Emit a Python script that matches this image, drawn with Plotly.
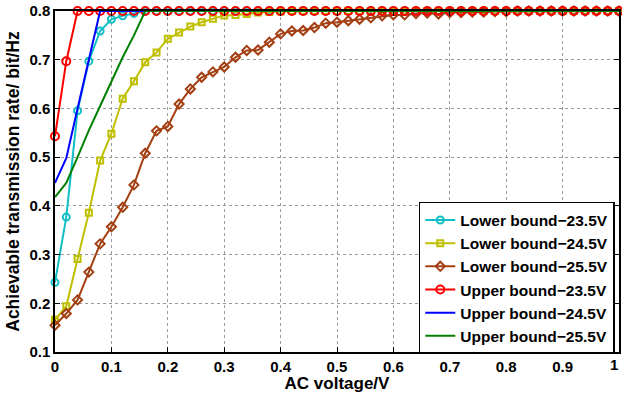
import plotly.graph_objects as go

x_voltage = [0.00, 0.02, 0.04, 0.06, 0.08, 0.10, 0.12, 0.14, 0.16, 0.18,
             0.20, 0.22, 0.24, 0.26, 0.28, 0.30, 0.32, 0.34, 0.36, 0.38,
             0.40, 0.42, 0.44, 0.46, 0.48, 0.50, 0.52, 0.54, 0.56, 0.58,
             0.60, 0.62, 0.64, 0.66, 0.68, 0.70, 0.72, 0.74, 0.76, 0.78,
             0.80, 0.82, 0.84, 0.86, 0.88, 0.90, 0.92, 0.94, 0.96, 0.98, 1.00]

lower_23_5 = [0.243, 0.377, 0.595, 0.697, 0.759, 0.783, 0.790, 0.795, 0.800, 0.800,
              0.800, 0.800, 0.800, 0.800, 0.800, 0.800, 0.800, 0.800, 0.800, 0.800,
              0.800, 0.800, 0.800, 0.800, 0.800, 0.800, 0.800, 0.800, 0.800, 0.800,
              0.800, 0.800, 0.800, 0.800, 0.800, 0.800, 0.800, 0.800, 0.800, 0.800,
              0.800, 0.800, 0.800, 0.800, 0.800, 0.800, 0.800, 0.800, 0.800, 0.800, 0.800]

lower_24_5 = [0.166, 0.194, 0.291, 0.386, 0.493, 0.548, 0.620, 0.656, 0.695, 0.715,
              0.743, 0.756, 0.768, 0.777, 0.784, 0.791, 0.792, 0.794, 0.797, 0.798,
              0.799, 0.800, 0.800, 0.800, 0.800, 0.800, 0.800, 0.800, 0.800, 0.800,
              0.800, 0.800, 0.800, 0.800, 0.800, 0.800, 0.800, 0.800, 0.800, 0.800,
              0.800, 0.800, 0.800, 0.800, 0.800, 0.800, 0.800, 0.800, 0.800, 0.800, 0.800]

lower_25_5 = [0.155, 0.179, 0.207, 0.264, 0.322, 0.357, 0.397, 0.443, 0.508, 0.554,
              0.563, 0.609, 0.640, 0.664, 0.675, 0.685, 0.705, 0.719, 0.720, 0.736,
              0.753, 0.759, 0.760, 0.766, 0.775, 0.777, 0.780, 0.783, 0.786, 0.790,
              0.792, 0.792, 0.795, 0.796, 0.794, 0.797, 0.797, 0.798, 0.798, 0.799,
              0.799, 0.800, 0.800, 0.800, 0.800, 0.800, 0.800, 0.800, 0.800, 0.800, 0.800]

upper_23_5 = [0.543, 0.697, 0.800, 0.800, 0.800, 0.800, 0.800, 0.800, 0.800, 0.800,
              0.800, 0.800, 0.800, 0.800, 0.800, 0.800, 0.800, 0.800, 0.800, 0.800,
              0.800, 0.800, 0.800, 0.800, 0.800, 0.800, 0.800, 0.800, 0.800, 0.800,
              0.800, 0.800, 0.800, 0.800, 0.800, 0.800, 0.800, 0.800, 0.800, 0.800,
              0.800, 0.800, 0.800, 0.800, 0.800, 0.800, 0.800, 0.800, 0.800, 0.800, 0.800]

upper_24_5 = [0.447, 0.498, 0.600, 0.700, 0.800, 0.800, 0.800, 0.800, 0.800, 0.800,
              0.800, 0.800, 0.800, 0.800, 0.800, 0.800, 0.800, 0.800, 0.800, 0.800,
              0.800, 0.800, 0.800, 0.800, 0.800, 0.800, 0.800, 0.800, 0.800, 0.800,
              0.800, 0.800, 0.800, 0.800, 0.800, 0.800, 0.800, 0.800, 0.800, 0.800,
              0.800, 0.800, 0.800, 0.800, 0.800, 0.800, 0.800, 0.800, 0.800, 0.800, 0.800]

upper_25_5 = [0.418, 0.447, 0.500, 0.555, 0.605, 0.655, 0.705, 0.750, 0.800, 0.800,
              0.800, 0.800, 0.800, 0.800, 0.800, 0.800, 0.800, 0.800, 0.800, 0.800,
              0.800, 0.800, 0.800, 0.800, 0.800, 0.800, 0.800, 0.800, 0.800, 0.800,
              0.800, 0.800, 0.800, 0.800, 0.800, 0.800, 0.800, 0.800, 0.800, 0.800,
              0.800, 0.800, 0.800, 0.800, 0.800, 0.800, 0.800, 0.800, 0.800, 0.800, 0.800]

x_ticks = [0, 0.1, 0.2, 0.3, 0.4, 0.5, 0.6, 0.7, 0.8, 0.9, 1]
x_tick_labels = ["0", "0.1", "0.2", "0.3", "0.4", "0.5", "0.6", "0.7", "0.8", "0.9", "1"]
y_ticks = [0.1, 0.2, 0.3, 0.4, 0.5, 0.6, 0.7, 0.8]
y_tick_labels = ["0.1", "0.2", "0.3", "0.4", "0.5", "0.6", "0.7", "0.8"]

series = [
    ("Lower bound\u221223.5V", lower_23_5, "#12BEC6", "circle-open", 7),
    ("Lower bound\u221224.5V", lower_24_5, "#BFBF00", "square-open", 6),
    ("Lower bound\u221225.5V", lower_25_5, "#A33F12", "diamond-open", 7),
    ("Upper bound\u221223.5V", upper_23_5, "#FF0000", "circle-open", 8),
    ("Upper bound\u221224.5V", upper_24_5, "#0000FF", None, 0),
    ("Upper bound\u221225.5V", upper_25_5, "#008000", None, 0),
]

FONT = "Liberation Sans, Arial, Helvetica, sans-serif"

fig = go.Figure()
for name, yv, color, symbol, size in series:
    if symbol:
        fig.add_trace(go.Scatter(
            x=x_voltage, y=yv, name=name, mode="lines+markers",
            line=dict(color=color, width=2),
            marker=dict(symbol=symbol, size=size, color=color, line=dict(width=2, color=color)),
            cliponaxis=False))
    else:
        fig.add_trace(go.Scatter(
            x=x_voltage, y=yv, name=name, mode="lines",
            line=dict(color=color, width=2), cliponaxis=False))

axis_common = dict(
    showline=True, linecolor="black", linewidth=1.5, mirror="ticks",
    ticks="inside", ticklen=5, tickcolor="black", tickwidth=1,
    showgrid=True, gridcolor="#9a9a9a", griddash="dot", gridwidth=1,
    zeroline=False,
    tickfont=dict(family=FONT, size=15, color="black", weight="bold"),
)

# last x label drawn as annotation (it sits flush with the right edge in the reference)
fig.update_xaxes(range=[0, 1], tickvals=x_ticks,
                 ticktext=x_tick_labels[:-1] + [""],
                 title=dict(text="AC voltage/V", standoff=3,
                            font=dict(family=FONT, size=17, color="black", weight="bold")),
                 **axis_common)
fig.update_yaxes(range=[0.1, 0.8], tickvals=y_ticks, ticktext=y_tick_labels,
                 title=dict(text="Achievable transmission rate/ bit/Hz", standoff=5,
                            font=dict(family=FONT, size=17.5, color="black", weight="bold")),
                 **axis_common)

fig.add_annotation(x=x_ticks[-1], y=0, xref="x", yref="paper", yanchor="top", xanchor="right",
                   text=x_tick_labels[-1], showarrow=False, yshift=-2, xshift=1,
                   font=dict(family=FONT, size=15, color="black", weight="bold"))

fig.update_layout(
    width=622, height=393,
    margin=dict(l=55, r=1, t=11, b=41),
    plot_bgcolor="white", paper_bgcolor="white",
    showlegend=True,
    legend=dict(x=0.645, y=0.44, xanchor="left", yanchor="top",
                bgcolor="white", bordercolor="black", borderwidth=1.5,
                font=dict(family=FONT, size=15.5, color="black", weight="bold"),
                tracegroupgap=0, itemwidth=30),
    font=dict(family=FONT, color="black"),
)

fig.write_html("out.html")
